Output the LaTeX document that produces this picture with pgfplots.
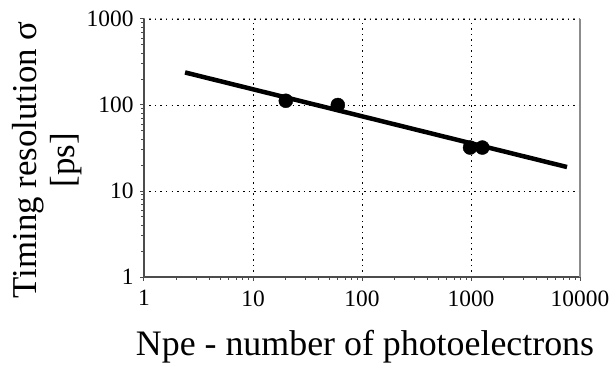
\documentclass[border=0pt]{standalone}
\usepackage{fontspec}
\setmainfont{Liberation Serif}
\usepackage{pgfplots}
\pgfplotsset{compat=1.18}
\begin{document}
\begin{tikzpicture}[x=1bp,y=1bp]
\useasboundingbox (-144,-94) rectangle (469,277);
\begin{axis}[
  at={(0,0)}, anchor=south west,
  scale only axis, width=436bp, height=258bp,
  xmode=log, ymode=log,
  xmin=1, xmax=10000, ymin=1, ymax=1000,
  axis x line*=bottom, axis y line*=left,
  axis line style={draw=black!70, line width=1.2bp, -},
  xtick={1,10,100,1000,10000}, xticklabels={1,10,100,1000,10000},
  ytick={1,10,100,1000}, yticklabels={1,10,100,1000},
  minor tick num=0, minor xtick={}, minor ytick={},
  tick align=outside, major tick length=4bp,
  tick style={black!70, line width=1bp},
  grid=major, major grid style={black, line width=0.8bp, dash pattern=on 1.5bp off 4bp},
  ticklabel style={font=\fontsize{23.5}{25}\selectfont},
  xticklabel style={yshift=-6bp},
  yticklabel style={xshift=-3bp},
  clip=false,
]
\addplot[black, line width=4.5bp, no marks] coordinates {(2.38,239) (7600,19)};
\addplot[only marks, mark=*, mark size=7bp, black] coordinates {(20,112) (60,100) (980,32) (1270,32)};
\draw[black!45, line width=1.5bp] (axis cs:10000,1) -- (axis cs:10000,1000);
\draw[black!45, line width=1bp, dash pattern=on 1.5bp off 4bp] (axis cs:1,1000) -- (axis cs:10000,1000);
\end{axis}
\node[font=\fontsize{36}{40}\selectfont, anchor=base] at (221,-78) {Npe - number of photoelectrons};
\node[font=\fontsize{35}{40}\selectfont, rotate=90, align=center] at (-97,117) {Timing resolution σ\\[-2bp][ps]};
\end{tikzpicture}
\end{document}
